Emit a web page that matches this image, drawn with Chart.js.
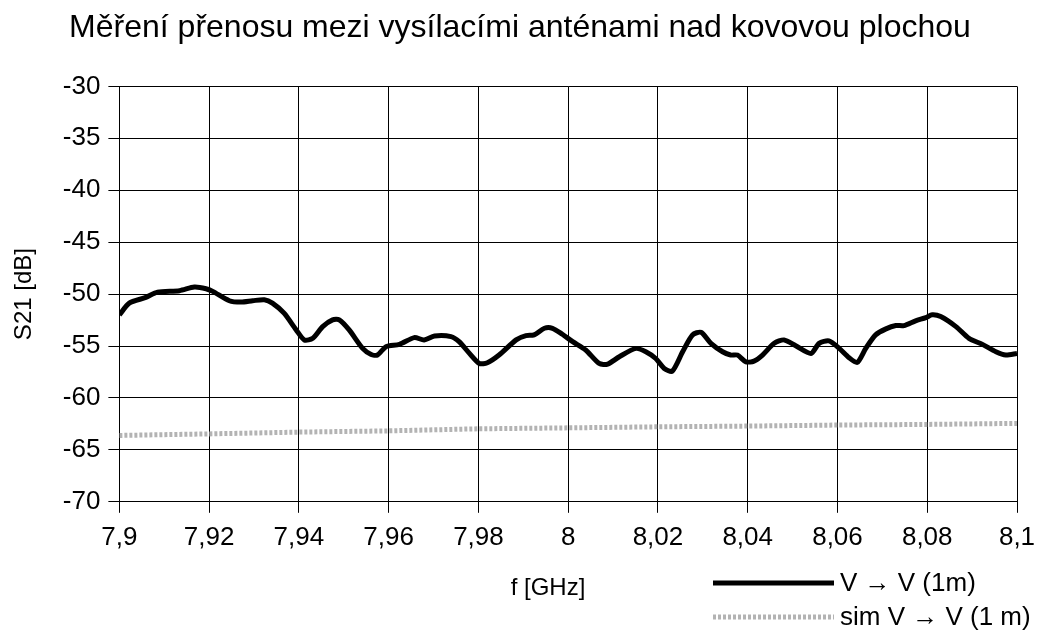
<!DOCTYPE html>
<html>
<head>
<meta charset="utf-8">
<script src="https://cdn.jsdelivr.net/npm/chart.js@4"></script>
<style>
  body { margin: 0; background: #fff; }
  #wrap { width: 1040px; height: 630px; }
</style>
</head>
<body>
<div id="wrap"><canvas id="c" width="1040" height="630"></canvas></div>
<script>
const measFreq = [7.9, 7.9022, 7.9059, 7.9085, 7.9134, 7.9167, 7.9193, 7.9208, 7.9245, 7.9271,
  7.9297, 7.9323, 7.9341, 7.9367, 7.9394, 7.9412, 7.9431, 7.9453, 7.9475, 7.949,
  7.9512, 7.9542, 7.9561, 7.9575, 7.9594, 7.9624, 7.9657, 7.9679, 7.9702, 7.9739,
  7.9757, 7.978, 7.9802, 7.982, 7.9846, 7.9884, 7.9906, 7.9924, 7.9947, 7.9965,
  7.9987, 8.001, 8.0039, 8.0069, 8.0088, 8.0114, 8.0151, 8.0173, 8.0195, 8.0214,
  8.0232, 8.0255, 8.0277, 8.0296, 8.0318, 8.0344, 8.0362, 8.0377, 8.0396, 8.0414,
  8.0433, 8.0459, 8.0481, 8.0507, 8.0541, 8.0559, 8.0581, 8.0604, 8.0626, 8.0644,
  8.0663, 8.0685, 8.0708, 8.073, 8.0748, 8.0774, 8.0797, 8.0811, 8.083, 8.0864,
  8.0893, 8.0923, 8.0953, 8.0975, 8.1];
const measS21 = [-52.0, -50.87, -50.32, -49.81, -49.67, -49.32, -49.48, -49.74, -50.64, -50.77,
  -50.64, -50.54, -50.87, -51.84, -53.45, -54.41, -54.26, -53.13, -52.48, -52.48,
  -53.45, -55.23, -55.81, -55.87, -55.06, -54.84, -54.19, -54.41, -54.03, -54.09,
  -54.58, -55.71, -56.68, -56.61, -55.87, -54.41, -54.0, -53.93, -53.29, -53.29,
  -53.87, -54.58, -55.38, -56.68, -56.74, -56.03, -55.23, -55.55, -56.2, -57.16,
  -57.42, -55.55, -53.93, -53.68, -54.74, -55.55, -55.87, -55.87, -56.52, -56.45,
  -55.87, -54.74, -54.41, -54.97, -55.71, -54.74, -54.51, -55.23, -56.13, -56.58,
  -55.23, -53.93, -53.35, -53.03, -53.03, -52.57, -52.26, -51.99, -52.16, -53.13,
  -54.26, -54.84, -55.55, -55.87, -55.71];

// simulated sim V -> V (1 m)
const simFreq = [7.9, 7.92, 7.94, 7.96, 7.98, 8.0, 8.02, 8.04, 8.06, 8.08, 8.1];
const simS21 = [-63.61, -63.46, -63.29, -63.17, -62.97, -62.88, -62.78, -62.71, -62.61, -62.55, -62.45];

const xTicks = [7.9, 7.92, 7.94, 7.96, 7.98, 8.0, 8.02, 8.04, 8.06, 8.08, 8.1];

const FONT = "'Liberation Sans', Arial, sans-serif";

function toPoints(xs, ys) {
  return xs.map((x, i) => ({ x: x, y: ys[i] }));
}

// x axis title and legend sit on the bottom rows, drawn by hand
const bottomRow = {
  id: 'bottomRow',
  afterDraw(chart) {
    const ctx = chart.ctx;
    const rows = [583, 617];
    ctx.save();
    ctx.fillStyle = '#000';
    ctx.textBaseline = 'middle';
    ctx.font = '24px ' + FONT;
    ctx.textAlign = 'center';
    ctx.fillText('f [GHz]', 548, 588);
    chart.data.datasets.forEach((ds, i) => {
      const y = rows[i];
      ctx.beginPath();
      ctx.strokeStyle = ds.borderColor;
      ctx.lineWidth = ds.borderWidth;
      ctx.setLineDash(ds.borderDash || []);
      ctx.moveTo(713, y);
      ctx.lineTo(834, y);
      ctx.stroke();
      ctx.setLineDash([]);
      ctx.fillStyle = '#000';
      ctx.font = '26px ' + FONT;
      ctx.textAlign = 'left';
      ctx.fillText(ds.label, 840, y + 1);
    });
    ctx.restore();
  }
};

const config = {
  type: 'line',
  data: {
    datasets: [
      {
        label: 'V \u2192 V (1m)',
        data: toPoints(measFreq, measS21),
        borderColor: '#000000',
        borderWidth: 5,
        pointRadius: 0,
        tension: 0.25,
        fill: false,
      },
      {
        label: 'sim V \u2192 V (1 m)',
        data: toPoints(simFreq, simS21),
        borderColor: '#b3b3b3',
        borderWidth: 5,
        borderDash: [3, 2],
        pointRadius: 0,
        tension: 0,
        fill: false,
      },
    ],
  },
  plugins: [bottomRow],
  options: {
    responsive: false,
    animation: false,
    layout: { padding: { left: 0, right: 0, top: 0, bottom: 68 } },
    plugins: {
      legend: { display: false },
      tooltip: { enabled: false },
      title: {
        display: true,
        text: 'Měření přenosu mezi vysílacími anténami nad kovovou plochou',
        color: '#000',
        font: { family: FONT, size: 32, weight: 'normal' },
        padding: { top: 9, bottom: 39 },
      },
    },
    scales: {
      x: {
        type: 'linear',
        min: 7.9,
        max: 8.1,
        afterBuildTicks: (scale) => {
          scale.ticks = xTicks.map((v) => ({ value: v }));
        },
        afterFit: (scale) => {
          scale.paddingRight = 23;
        },
        ticks: {
          color: '#000',
          font: { family: FONT, size: 26 },
          maxRotation: 0,
          autoSkip: false,
          padding: 9,
          callback: (v) => String(Number(v.toFixed(2))).replace('.', ','),
        },
        grid: { color: '#000', lineWidth: 1, tickLength: 11 },
        border: { color: '#000', width: 1 },
      },
      y: {
        min: -70,
        max: -30,
        ticks: {
          stepSize: 5,
          color: '#000',
          font: { family: FONT, size: 26 },
          padding: 8,
        },
        grid: { color: '#000', lineWidth: 1, tickLength: 11 },
        border: { color: '#000', width: 1 },
        title: {
          display: true,
          text: 'S21 [dB]',
          color: '#000',
          font: { family: FONT, size: 24 },
          padding: { top: 10, bottom: 16 },
        },
      },
    },
  },
};

new Chart(document.getElementById('c'), config);
</script>
</body>
</html>
